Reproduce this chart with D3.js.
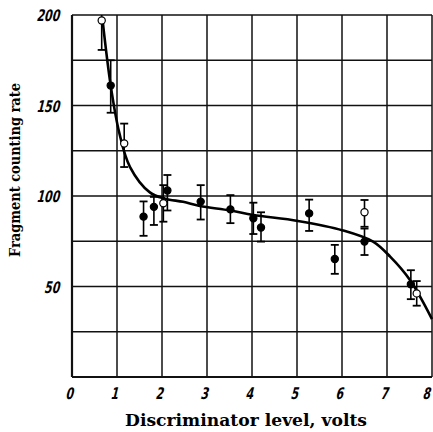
<!DOCTYPE html>
<html lang="en">
<head>
<meta charset="UTF-8">
<title>Fragment counting rate</title>
<script src="https://d3js.org/d3.v7.min.js"></script>
<style>
  body { margin: 0; background: #fff; }
  .tick-label { font-family: "DejaVu Sans", sans-serif; font-weight: bold; font-size: 16px; }
  .axis-title { font-family: "DejaVu Serif", serif; font-weight: bold; }
</style>
</head>
<body>
<svg id="chart" width="433" height="432"></svg>
<script>
// measured points: x (volts), y (rate), error bar low/high, open or filled
var pointX    = [0.66, 0.86, 1.16, 1.59, 1.82, 2.03, 2.12, 2.86, 3.52, 4.03, 4.20, 5.27, 5.84, 6.50, 6.50, 7.53, 7.66];
var pointY    = [197, 161, 129, 88.6, 94, 96, 103, 96.9, 92.6, 87.7, 82.6, 90.4, 65.2, 91, 74.8, 51.2, 46.2];
var errLow    = [180.7, 146, 116, 78, 84, 85.8, 92, 87, 85, 79, 74.8, 80.7, 57, 83, 67.4, 43, 39.4];
var errHigh   = [213, 175, 140, 97, 99.5, 106, 111.6, 106, 100.5, 96.3, 91, 98, 73, 97.8, 82, 59, 53];
var pointOpen = [true, false, true, false, false, true, false, false, false, false, false, false, false, true, false, false, true];

// fitted curve
var curveX = [0.68, 0.86, 1.05, 1.29, 1.73, 2.07, 2.47, 2.84, 3.51, 4.03, 5.02, 6.02, 6.69, 7.07, 7.51, 8.0];
var curveY = [197, 161, 135, 116, 102, 98.5, 96.8, 94.5, 92, 89.5, 86.2, 81, 74.8, 66.5, 53.6, 32];

var xTicks = [0, 1, 2, 3, 4, 5, 6, 7, 8];
var yGrid  = [0, 25, 50, 75, 100, 125, 150, 175, 200];
var yLabels = [50, 100, 150, 200];

var svg = d3.select("#chart");

var x = d3.scaleLinear().domain([0, 8]).range([72, 432]);
var y = d3.scaleLinear().domain([0, 200]).range([377, 15]);

svg.append("clipPath").attr("id", "plotclip")
  .append("rect").attr("x", 72).attr("y", 15).attr("width", 361).attr("height", 362);

// grid
svg.append("g")
  .selectAll("line")
  .data(xTicks)
  .join("line")
  .attr("x1", d => x(d)).attr("x2", d => x(d))
  .attr("y1", y(200)).attr("y2", y(0))
  .attr("stroke", "#111")
  .attr("stroke-width", d => d === 0 ? 2.2 : 1.5);

svg.append("g")
  .selectAll("line")
  .data(yGrid)
  .join("line")
  .attr("x1", x(0)).attr("x2", x(8))
  .attr("y1", d => y(d)).attr("y2", d => y(d))
  .attr("stroke", "#111")
  .attr("stroke-width", d => d === 0 ? 2.2 : 1.5);

// tick labels (narrow slanted digits)
svg.append("g")
  .selectAll("text")
  .data(xTicks)
  .join("text")
  .attr("class", "tick-label")
  .attr("transform", d => `translate(${Math.min(x(d) - 3, 426)},399) skewX(-14) scale(0.68,1)`)
  .attr("text-anchor", "middle")
  .text(d => d);

svg.append("g")
  .selectAll("text")
  .data(yLabels)
  .join("text")
  .attr("class", "tick-label")
  .attr("transform", d => `translate(59,${y(d) + 6}) skewX(-14) scale(0.68,1)`)
  .attr("text-anchor", "end")
  .text(d => d);

// axis titles
svg.append("text")
  .attr("class", "axis-title")
  .attr("x", 246).attr("y", 426)
  .attr("text-anchor", "middle")
  .attr("textLength", 242)
  .attr("lengthAdjust", "spacingAndGlyphs")
  .style("font-size", "16px")
  .text("Discriminator level, volts");

svg.append("text")
  .attr("class", "axis-title")
  .attr("transform", "translate(20,170) rotate(-90)")
  .attr("text-anchor", "middle")
  .attr("textLength", 174)
  .attr("lengthAdjust", "spacingAndGlyphs")
  .style("font-size", "15px")
  .text("Fragment counting rate");

var plot = svg.append("g").attr("clip-path", "url(#plotclip)");

// curve
var curvePts = curveX.map((d, i) => [d, curveY[i]]);
plot.append("path")
  .datum(curvePts)
  .attr("fill", "none")
  .attr("stroke", "#000")
  .attr("stroke-width", 2.6)
  .attr("d", d3.line().x(d => x(d[0])).y(d => y(d[1])).curve(d3.curveCatmullRom.alpha(0.5)));

// error bars
var pts = pointX.map((d, i) => ({x: d, y: pointY[i], lo: errLow[i], hi: errHigh[i], open: pointOpen[i]}));
var eb = plot.append("g").selectAll("g").data(pts).join("g");
eb.append("line")
  .attr("x1", d => x(d.x)).attr("x2", d => x(d.x))
  .attr("y1", d => y(d.lo)).attr("y2", d => y(d.hi))
  .attr("stroke", "#000").attr("stroke-width", 1.6);
eb.append("line")
  .attr("x1", d => x(d.x) - 4).attr("x2", d => x(d.x) + 4)
  .attr("y1", d => y(d.lo)).attr("y2", d => y(d.lo))
  .attr("stroke", "#000").attr("stroke-width", 1.8);
eb.append("line")
  .attr("x1", d => x(d.x) - 4).attr("x2", d => x(d.x) + 4)
  .attr("y1", d => y(d.hi)).attr("y2", d => y(d.hi))
  .attr("stroke", "#000").attr("stroke-width", 1.8);

// points
svg.append("g").selectAll("circle").data(pts).join("circle")
  .attr("cx", d => x(d.x))
  .attr("cy", d => y(d.y))
  .attr("r", 3.6)
  .attr("fill", d => d.open ? "#fff" : "#000")
  .attr("stroke", "#000")
  .attr("stroke-width", 1.2);
</script>
</body>
</html>
